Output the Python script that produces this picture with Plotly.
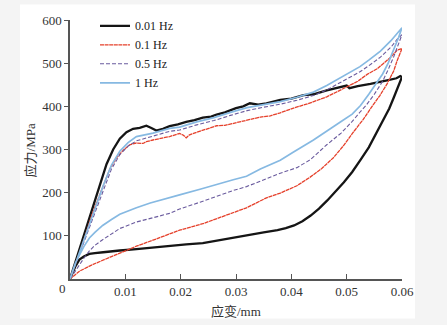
import plotly.graph_objects as go

# ---------------- data ----------------
legend_labels = ["0.01 Hz", "0.1 Hz", "0.5 Hz", "1 Hz"]
x_tick_vals = [0.01, 0.02, 0.03, 0.04, 0.05, 0.06]
x_tick_text = ["0.01", "0.02", "0.03", "0.04", "0.05", "0.06"]
y_tick_vals = [100, 200, 300, 400, 500, 600]
y_tick_text = ["100", "200", "300", "400", "500", "600"]

# 0.01 Hz
hz001_up_x = [0, 0.002, 0.004, 0.0055, 0.0066, 0.0078, 0.009, 0.0102, 0.0114, 0.0126, 0.0138,
              0.0147, 0.0156, 0.0168, 0.018, 0.0195, 0.021, 0.0225, 0.024, 0.0255, 0.0265, 0.028,
              0.030, 0.0313, 0.0325, 0.034, 0.0355, 0.038, 0.040, 0.0422, 0.044, 0.0464, 0.048,
              0.050, 0.0505, 0.052, 0.0543, 0.056, 0.0573, 0.059, 0.0597, 0.06]
hz001_up_y = [0, 80, 162, 222, 266, 300, 325, 340, 348, 350, 355,
              350, 344, 348, 354, 358, 364, 368, 374, 376, 381, 386,
              396, 400, 407, 404, 407, 415, 418, 426, 428, 437, 442,
              448, 442, 447, 452, 456, 460, 465, 470, 468]
hz001_dn_x = [0.06, 0.0592, 0.0585, 0.0577, 0.0565, 0.0552, 0.054, 0.0525, 0.051, 0.0495, 0.048,
              0.0465, 0.045, 0.0435, 0.042, 0.0405, 0.039, 0.0375, 0.035, 0.0325, 0.030, 0.0271,
              0.024, 0.021, 0.018, 0.015, 0.012, 0.009, 0.0078, 0.006, 0.0045, 0.0035, 0.0025,
              0.0017, 0.001, 0.0005, 0]
hz001_dn_y = [468, 440, 420, 395, 365, 333, 305, 276, 248, 224, 202,
              182, 163, 147, 134, 124, 118, 113, 108, 102, 96, 89,
              83, 80, 76, 72, 69, 66, 65, 62, 60, 58, 52,
              45, 30, 15, 0]

# 0.1 Hz
hz01_up_x = [0, 0.002, 0.004, 0.0057, 0.0072, 0.0084, 0.0096, 0.0108, 0.012, 0.0132, 0.0138,
             0.015, 0.0168, 0.018, 0.0198, 0.0205, 0.021, 0.0216, 0.0229, 0.0245, 0.0265, 0.028,
             0.0295, 0.032, 0.0344, 0.0362, 0.038, 0.0404, 0.043, 0.0464, 0.048, 0.050, 0.052,
             0.0537, 0.0555, 0.0567, 0.058, 0.0591, 0.06]
hz01_up_y = [0, 70, 150, 205, 255, 281, 298, 311, 315, 314, 318,
             322, 326, 330, 337, 333, 327, 334, 340, 346, 355, 356,
             360, 368, 375, 378, 385, 396, 406, 422, 432, 445, 458,
             474, 487, 500, 514, 530, 534]
hz01_dn_x = [0.06, 0.0591, 0.0585, 0.0573, 0.056, 0.0545, 0.053, 0.0512, 0.0495, 0.0476, 0.0455,
             0.0434, 0.041, 0.038, 0.0355, 0.0319, 0.0295, 0.0271, 0.024, 0.0198, 0.018, 0.015,
             0.012, 0.009, 0.006, 0.004, 0.0017, 0]
hz01_dn_y = [534, 505, 482, 452, 425, 398, 370, 340, 310, 281, 256,
             236, 216, 199, 188, 165, 154, 143, 128, 113, 104, 90,
             76, 60, 44, 33, 18, 0]

# 0.5 Hz
hz05_up_x = [0, 0.002, 0.004, 0.006, 0.0075, 0.009, 0.0105, 0.012, 0.0135, 0.015, 0.018,
             0.0198, 0.0229, 0.026, 0.029, 0.032, 0.035, 0.038, 0.041, 0.044, 0.0464, 0.048,
             0.050, 0.0524, 0.054, 0.0561, 0.058, 0.0591, 0.06]
hz05_up_y = [0, 68, 140, 208, 255, 288, 308, 320, 326, 331, 342,
             345, 357, 367, 379, 390, 398, 405, 414, 425, 438, 449,
             463, 480, 494, 514, 537, 555, 566]
hz05_dn_x = [0.06, 0.0594, 0.0585, 0.0575, 0.0565, 0.055, 0.0535, 0.0525, 0.051, 0.049, 0.0464,
             0.0434, 0.041, 0.038, 0.0355, 0.0319, 0.0295, 0.0259, 0.0235, 0.0198, 0.018, 0.015,
             0.012, 0.009, 0.0075, 0.0059, 0.0045, 0.0035, 0.0025, 0.0015, 0]
hz05_dn_y = [566, 545, 515, 485, 458, 428, 402, 388, 365, 338, 311,
             276, 258, 245, 232, 214, 205, 188, 178, 162, 152, 142,
             132, 117, 105, 91, 78, 65, 48, 30, 0]

# 1 Hz
hz1_up_x = [0, 0.002, 0.004, 0.006, 0.0075, 0.009, 0.0105, 0.012, 0.0135, 0.015, 0.018,
            0.0198, 0.0229, 0.026, 0.029, 0.032, 0.035, 0.038, 0.041, 0.044, 0.0464, 0.048,
            0.050, 0.0524, 0.054, 0.0561, 0.058, 0.0591, 0.06]
hz1_up_y = [0, 72, 148, 216, 264, 296, 316, 330, 334, 338, 349,
            352, 364, 374, 386, 397, 404, 411, 421, 433, 448, 460,
            475, 492, 507, 528, 552, 570, 582]
hz1_dn_x = [0.06, 0.0594, 0.0585, 0.0575, 0.0565, 0.0555, 0.054, 0.0525, 0.051, 0.049, 0.0464,
            0.044, 0.0404, 0.038, 0.0344, 0.0319, 0.0295, 0.0259, 0.0235, 0.0198, 0.017, 0.0145,
            0.012, 0.009, 0.0075, 0.0059, 0.0045, 0.0035, 0.0025, 0.0017, 0.001, 0]
hz1_dn_y = [582, 560, 530, 500, 475, 455, 428, 402, 382, 365, 342,
            322, 294, 275, 255, 238, 230, 216, 208, 195, 185, 176,
            165, 150, 138, 124, 108, 95, 75, 57, 38, 0]

# ---------------- figure ----------------
W, H = 447, 325
ML, MR, MT, MB = 70, 45, 11, 46
PW, PH = W - ML - MR, H - MT - MB

serif = "'Liberation Serif', 'Times New Roman', serif"
cjk = "'Liberation Serif', 'Noto Sans CJK SC', serif"

series = [
    (legend_labels[0], hz001_up_x + hz001_dn_x, hz001_up_y + hz001_dn_y, "#151515", 2.3, "solid"),
    (legend_labels[1], hz01_up_x + hz01_dn_x, hz01_up_y + hz01_dn_y, "#e5402b", 1.3, "4px,0.6px"),
    (legend_labels[2], hz05_up_x + hz05_dn_x, hz05_up_y + hz05_dn_y, "#6a5b9e", 1.1, "4px,2px"),
    (legend_labels[3], hz1_up_x + hz1_dn_x, hz1_up_y + hz1_dn_y, "#86b9e2", 1.7, "solid"),
]

fig = go.Figure()
for name, xs, ys, color, width, dash in series:
    fig.add_trace(go.Scatter(x=xs, y=ys, mode="lines", name=name,
                             line=dict(color=color, width=width, dash=dash)))

def px_to_paper_x(px):
    return (px - ML) / PW

def px_to_paper_y(py):
    return (H - MB - py) / PH

fig.update_layout(
    width=W, height=H,
    margin=dict(l=ML, r=MR, t=MT, b=MB, pad=0),
    paper_bgcolor="#f4f4f4",
    plot_bgcolor="rgba(0,0,0,0)",
    showlegend=True,
    legend=dict(x=px_to_paper_x(95), y=px_to_paper_y(2), xanchor="left", yanchor="top",
                bgcolor="rgba(0,0,0,0)", font=dict(family=serif, size=12, color="#222"),
                tracegroupgap=0, itemwidth=30),
    shapes=[dict(type="rect", xref="paper", yref="paper", layer="below",
                 x0=px_to_paper_x(20), x1=px_to_paper_x(415),
                 y0=px_to_paper_y(320), y1=px_to_paper_y(-5),
                 fillcolor="white", line=dict(width=0))],
    annotations=[
        dict(text="0", xref="paper", yref="paper", x=px_to_paper_x(62), y=px_to_paper_y(289),
             showarrow=False, font=dict(family=serif, size=13, color="#333"),
             xanchor="center", yanchor="middle"),
        dict(text="应变/mm", xref="paper", yref="paper", x=px_to_paper_x(236), y=px_to_paper_y(313),
             showarrow=False, font=dict(family=cjk, size=13, color="#333"),
             xanchor="center", yanchor="middle"),
        dict(text="应力/MPa", xref="paper", yref="paper", x=px_to_paper_x(30), y=px_to_paper_y(146),
             showarrow=False, textangle=-90, font=dict(family=cjk, size=13, color="#333"),
             xanchor="center", yanchor="middle"),
    ],
)

fig.update_xaxes(range=[0, 0.06], showgrid=False, zeroline=False,
                 showline=True, linecolor="#555", linewidth=1.5,
                 ticks="inside", ticklen=5, tickwidth=1, tickcolor="#555",
                 tickvals=x_tick_vals, ticktext=x_tick_text,
                 tickfont=dict(family=serif, size=13, color="#333"))
fig.update_yaxes(range=[0, 600], showgrid=False, zeroline=False,
                 showline=True, linecolor="#555", linewidth=1.5,
                 ticks="outside", ticklen=4, tickwidth=1, tickcolor="#555",
                 tickvals=y_tick_vals, ticktext=y_tick_text,
                 tickfont=dict(family=serif, size=13, color="#333"))

fig.write_html("out.html")
